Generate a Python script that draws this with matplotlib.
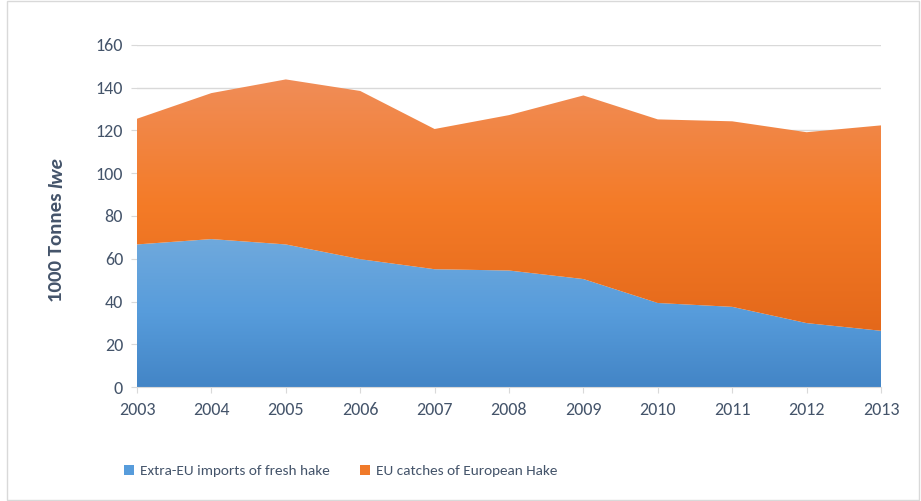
import numpy as np
import matplotlib
matplotlib.use("Agg")
import matplotlib.pyplot as plt
from matplotlib.colors import LinearSegmentedColormap
from matplotlib.patches import Rectangle, Patch

years = [2003, 2004, 2005, 2006, 2007, 2008, 2009, 2010, 2011, 2012, 2013]
imports = [66.7, 69.2, 66.7, 59.8, 55.1, 54.5, 50.5, 39.3, 37.5, 29.9, 26.3]
catches = [58.8, 68.3, 77.2, 78.7, 65.6, 72.7, 85.9, 85.9, 86.8, 89.3, 96.1]
series_names = ["Extra-EU imports of fresh hake", "EU catches of European Hake"]
yticks = [0, 20, 40, 60, 80, 100, 120, 140, 160]

plt.rcParams['font.family'] = ['Carlito', 'Lato', 'DejaVu Sans']
txt = '#44546a'

fig = plt.figure(figsize=(9.21, 5.01), dpi=100)
fig.patches.append(Rectangle((0.008, 0.002), 0.99, 0.996, transform=fig.transFigure,
                             fill=False, edgecolor='#d9d9d9', linewidth=1.0))
ax = fig.add_axes([137/921, 1-387/501, (881-137)/921, (387-45)/501])

x = np.array(years, dtype=float)
b = np.array(imports)
t = b + np.array(catches)

for v in yticks[1:]:
    ax.axhline(v, color='#d9d9d9', lw=1, zorder=0)

def grad_fill(lower, upper, c_top, c_mid, c_bot, ylo, yhi):
    poly = ax.fill_between(x, lower, upper, color='none', lw=0, zorder=2)
    cmap = LinearSegmentedColormap.from_list('g', [c_bot, c_mid, c_top])
    grad = np.linspace(0, 1, 256).reshape(-1, 1)
    im = ax.imshow(grad, cmap=cmap, origin='lower', aspect='auto',
                   extent=[x[0], x[-1], ylo, yhi], zorder=2, interpolation='bilinear')
    path = poly.get_paths()[0]
    im.set_clip_path(path, transform=ax.transData)
    return poly

grad_fill(np.zeros_like(b), b, '#6fa9dd', '#579cdb', '#4385c6', 0, b.max())
grad_fill(b, t, '#f08d58', '#f47b27', '#e4681a', b.min(), t.max())

ax.set_xlim(x[0], x[-1])
ax.set_ylim(0, 160)
ax.set_xticks(years)
ax.set_xticklabels([str(y) for y in years])
ax.set_yticks(yticks)
for s in ['top', 'right', 'left']:
    ax.spines[s].set_visible(False)
ax.spines['bottom'].set_color('#d9d9d9')
ax.tick_params(axis='x', colors='#d9d9d9', labelcolor=txt, labelsize=13, length=4, pad=7)
ax.tick_params(axis='y', colors='#d9d9d9', labelcolor=txt, labelsize=13, length=4, pad=6)

# y label: bold + bold italic
t1 = fig.text(57/921, 1-302/501, "1000 Tonnes ", rotation=90, fontsize=15, fontweight='bold',
              color=txt, ha='center', va='bottom')
fig.canvas.draw()
bb = t1.get_window_extent()
inv = fig.transFigure.inverted()
y_top = inv.transform((0, bb.y1))[1]
fig.text(57/921, y_top, "lwe", rotation=90, fontsize=15, fontweight='bold', fontstyle='italic',
         color=txt, ha='center', va='bottom')

handles = [Patch(facecolor='#579cdb', edgecolor='none'), Patch(facecolor='#f07a2a', edgecolor='none')]
fig.legend(handles, series_names, loc='center left', bbox_to_anchor=(110/921, 1-471/501), ncol=2,
           frameon=False, fontsize=11, labelcolor=txt, handlelength=0.65, handleheight=0.65,
           handletextpad=0.4, columnspacing=2.0)

fig.savefig('out.png', dpi=100)
